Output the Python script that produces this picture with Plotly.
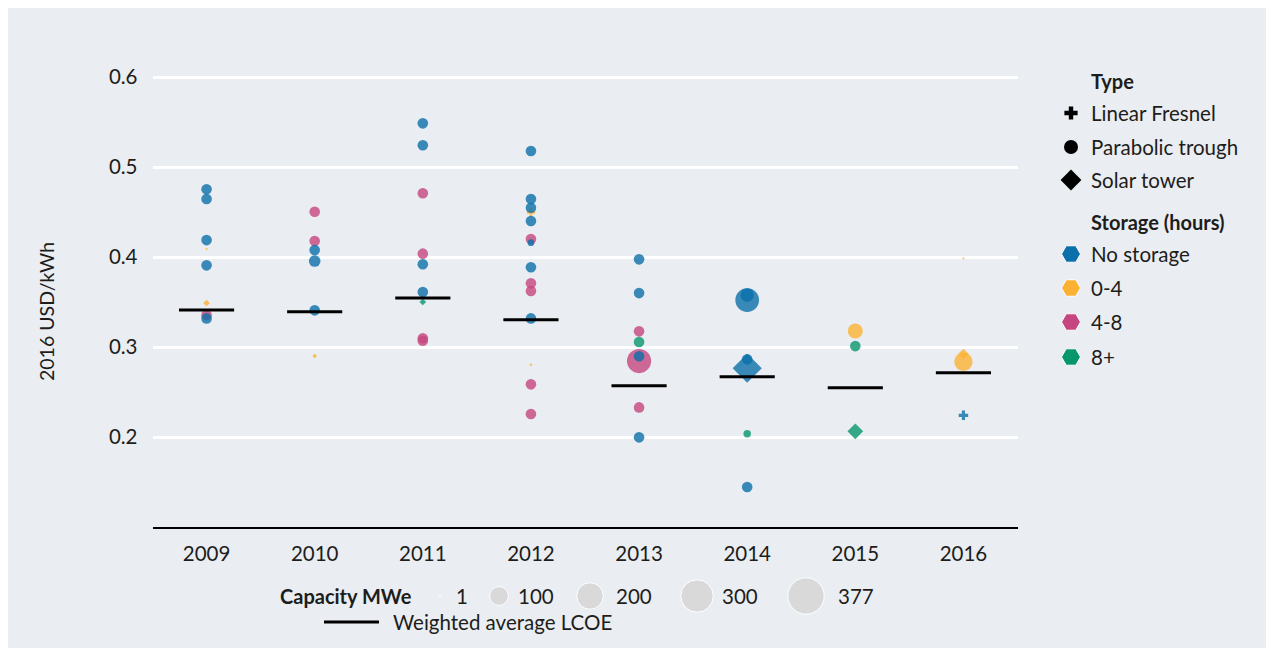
import math
import plotly.graph_objects as go

# ---------------- data ----------------
years = [2009, 2010, 2011, 2012, 2013, 2014, 2015, 2016]
year_labels = ["2009", "2010", "2011", "2012", "2013", "2014", "2015", "2016"]
weighted_avg = [0.3411, 0.3392, 0.3545, 0.3304, 0.2569, 0.2669, 0.2548, 0.2715]

# individual projects (P = Parabolic trough, T = Solar tower, F = Linear Fresnel)
# storage: N = no storage, Y = 0-4h, M = 4-8h, G = 8+h
proj_year = [2009, 2009, 2009, 2009, 2009, 2009, 2009, 2009,
             2010, 2010, 2010, 2010, 2010, 2010,
             2011, 2011, 2011, 2011, 2011, 2011, 2011, 2011, 2011,
             2012, 2012, 2012, 2012, 2012, 2012, 2012, 2012, 2012, 2012, 2012, 2012, 2012, 2012,
             2013, 2013, 2013, 2013, 2013, 2013, 2013, 2013,
             2014, 2014, 2014, 2014, 2014, 2014,
             2015, 2015, 2015,
             2016, 2016, 2016, 2016]
proj_lcoe = [0.4752, 0.4644, 0.4188, 0.4089, 0.3907, 0.3489, 0.3355, 0.3318,
             0.4503, 0.4178, 0.4078, 0.3955, 0.3407, 0.2900,
             0.5485, 0.5241, 0.4708, 0.4037, 0.3919, 0.3611, 0.3500, 0.3097, 0.3069,
             0.5177, 0.4644, 0.4547, 0.4496, 0.4400, 0.4199, 0.4159, 0.3886, 0.3707, 0.3622, 0.3318, 0.2803, 0.2585, 0.2255,
             0.3974, 0.3599, 0.3174, 0.3056, 0.2844, 0.2897, 0.2329, 0.1996,
             0.3522, 0.3578, 0.2863, 0.2764, 0.2036, 0.1444,
             0.3177, 0.3010, 0.2063,
             0.3986, 0.2922, 0.2836, 0.2241]
proj_cap = [50, 50, 50, 2, 50, 20, 50, 50,
            50, 50, 50, 60, 50, 10,
            50, 50, 50, 50, 50, 50, 20, 50, 50,
            50, 50, 50, 30, 50, 50, 20, 50, 50, 50, 50, 4, 50, 50,
            50, 50, 50, 50, 260, 50, 50, 50,
            250, 80, 50, 377, 25, 50,
            100, 50, 110,
            2, 50, 150, 40]
proj_type = ["P", "P", "P", "P", "P", "T", "P", "P",
             "P", "P", "P", "P", "P", "T",
             "P", "P", "P", "P", "P", "P", "T", "P", "P",
             "P", "P", "P", "F", "P", "P", "P", "P", "P", "P", "P", "T", "P", "P",
             "P", "P", "P", "P", "P", "P", "P", "P",
             "P", "P", "P", "T", "P", "P",
             "P", "P", "T",
             "P", "T", "P", "F"]
proj_storage = ["N", "N", "N", "Y", "N", "Y", "M", "N",
                "M", "M", "N", "N", "N", "Y",
                "N", "N", "M", "M", "N", "N", "G", "M", "M",
                "N", "N", "N", "Y", "N", "M", "N", "N", "M", "M", "N", "Y", "M", "M",
                "N", "N", "M", "G", "M", "N", "M", "N",
                "N", "N", "N", "N", "G", "N",
                "Y", "G", "G",
                "Y", "Y", "Y", "N"]

type_names = ["Linear Fresnel", "Parabolic trough", "Solar tower"]
storage_names = ["No storage", "0-4", "4-8", "8+"]
capacity_legend = [1, 100, 200, 300, 377]
y_ticks = [0.2, 0.3, 0.4, 0.5, 0.6]
y_tick_labels = ["0.2", "0.3", "0.4", "0.5", "0.6"]

# ---------------- styles ----------------
BG = "#EAEDF1"
TXT = "#1d1d1b"
FONT = "Lato"
storage_colors = {"N": "#0B6FAA", "Y": "#FBB134", "M": "#C5467F", "G": "#07966E"}
storage_keys = ["N", "Y", "M", "G"]
type_symbol = {"F": "cross", "P": "circle", "T": "diamond"}
symbol_scale = {"cross": 1 / 1.2, "circle": 1.0, "diamond": 1 / 1.3}


def diam(cap):
    return 1.5 * math.sqrt(cap)


W, H = 1274, 640
OX, OY = 8, 8  # page offset of the figure

fig = go.Figure()

# project markers, one trace per storage class, largest drawn first
for key in ["Y", "M", "G", "N"]:
    idx = [i for i in range(len(proj_year)) if proj_storage[i] == key]
    idx.sort(key=lambda i: -proj_cap[i])
    syms = [type_symbol[proj_type[i]] for i in idx]
    sizes = [max(diam(proj_cap[i]) * symbol_scale[s], 1.2) for i, s in zip(idx, syms)]
    fig.add_trace(go.Scatter(
        x=[proj_year[i] for i in idx], y=[proj_lcoe[i] for i in idx],
        mode="markers", showlegend=False, cliponaxis=False,
        marker=dict(color=storage_colors[key], symbol=syms, size=sizes,
                    opacity=0.8, line=dict(width=0)),
        xaxis="x", yaxis="y"))

# weighted average segments
seg_x, seg_y = [], []
for yr, v in zip(years, weighted_avg):
    seg_x += [yr - 0.255, yr + 0.255, None]
    seg_y += [v, v, None]
fig.add_trace(go.Scatter(x=seg_x, y=seg_y, mode="lines", showlegend=False,
                         line=dict(color="black", width=3), xaxis="x", yaxis="y"))

# ---------------- legends (drawn on an overlay axis in page pixels) ----------------
LX_SYM, LX_TXT = 1071, 1089
type_rows = [113, 147, 180]
stor_rows = [254, 288, 322, 357]
type_sizes = {"cross": 11, "circle": 14, "diamond": 16}
LEG_FS = 20.5

annotations = []


def txt(x, y, s, size=LEG_FS, bold=False, anchor="left"):
    annotations.append(dict(x=x, y=y, xref="x2", yref="y2", text=("<b>%s</b>" % s) if bold else s,
                            showarrow=False, xanchor=anchor, yanchor="middle",
                            font=dict(family=FONT, size=size, color=TXT)))


txt(LX_TXT, 81, "Type", bold=True, size=20)
for name, code, yy in zip(type_names, ["F", "P", "T"], type_rows):
    s = type_symbol[code]
    fig.add_trace(go.Scatter(x=[LX_SYM], y=[yy], mode="markers", showlegend=False,
                             marker=dict(symbol=s, size=type_sizes[s], color="black"),
                             xaxis="x2", yaxis="y2"))
    txt(LX_TXT, yy, name)

txt(LX_TXT, 222, "Storage (hours)", bold=True, size=20)
for name, key, yy in zip(storage_names, storage_keys, stor_rows):
    fig.add_trace(go.Scatter(x=[LX_SYM], y=[yy], mode="markers", showlegend=False,
                             marker=dict(symbol="hexagon2", size=19, color=storage_colors[key],
                                         line=dict(color="white", width=1)),
                             xaxis="x2", yaxis="y2"))
    txt(LX_TXT, yy, name)

# capacity legend
cap_y = 596
txt(278, cap_y, "Capacity MWe", bold=True, size=20)
cap_cx = [440, 499, 590, 697, 806]
cap_tx = [454, 516, 614, 720, 836]
for c, cx, tx in zip(capacity_legend, cap_cx, cap_tx):
    fig.add_trace(go.Scatter(x=[cx], y=[cap_y], mode="markers", showlegend=False,
                             marker=dict(symbol="circle", size=max(diam(c) * 1.25, 2.5),
                                         color="#D9D9D9", line=dict(color="white", width=1)),
                             xaxis="x2", yaxis="y2"))
    txt(tx, cap_y, str(c))

fig.add_trace(go.Scatter(x=[324, 379], y=[622, 622], mode="lines", showlegend=False,
                         line=dict(color="black", width=3), xaxis="x2", yaxis="y2"))
txt(391, 622, "Weighted average LCOE")

# y-axis title
annotations.append(dict(x=46, y=312, xref="x2", yref="y2", text="2016 USD/kWh", textangle=-90,
                        showarrow=False, xanchor="center", yanchor="middle",
                        font=dict(family=FONT, size=19.5, color=TXT)))

# ---------------- layout ----------------
px_left, px_right = 152.5, 1017.5
px_bottom, px_top = 527, 32

fig.update_layout(
    width=W, height=H,
    margin=dict(l=0, r=0, t=0, b=0),
    paper_bgcolor=BG, plot_bgcolor="rgba(0,0,0,0)",
    font=dict(family=FONT, color=TXT),
    xaxis=dict(domain=[(px_left - OX) / W, (px_right - OX) / W],
               range=[2008.5, 2016.5], tickvals=years, ticktext=year_labels,
               showgrid=False, zeroline=False, showline=True, linecolor="black", linewidth=2,
               ticks="", ticklabelstandoff=7, tickfont=dict(size=20.5, color=TXT), anchor="y"),
    yaxis=dict(domain=[1 - (px_bottom - OY) / H, 1 - (px_top - OY) / H],
               range=[0.1, 0.65], tickvals=y_ticks, ticktext=y_tick_labels,
               showgrid=True, gridcolor="white", gridwidth=2.5, zeroline=False,
               showline=False, ticks="", ticklabelstandoff=14,
               tickfont=dict(size=20.5, color=TXT), anchor="x"),
    xaxis2=dict(domain=[0, 1], range=[OX, OX + W], visible=False, fixedrange=True, anchor="y2"),
    yaxis2=dict(domain=[0, 1], range=[OY + H, OY], visible=False, fixedrange=True, anchor="x2"),
    annotations=annotations,
)

fig.write_html("out.html")
